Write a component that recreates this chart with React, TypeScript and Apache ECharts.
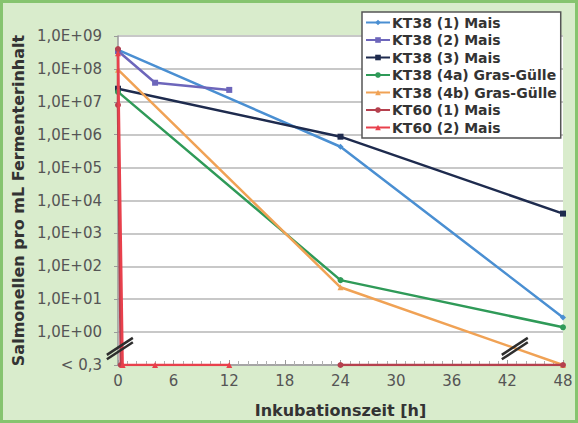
import React, { useEffect, useRef } from "react";
import * as echarts from "echarts";

// value plotted for "< 0,3" (below detection limit)
const BELOW = 0.1;

const seriesNames = [
  "KT38 (1) Mais",
  "KT38 (2) Mais",
  "KT38 (3) Mais",
  "KT38 (4a) Gras-Gülle",
  "KT38 (4b) Gras-Gülle",
  "KT60 (1) Mais",
  "KT60 (2) Mais",
];

const kt38_1_h = [0, 24, 48];
const kt38_1_v = [3.8e8, 4.3e5, 2.8];

const kt38_2_h = [0, 4, 12];
const kt38_2_v = [3.5e8, 3.8e7, 2.3e7];

const kt38_3_h = [0, 24, 48];
const kt38_3_v = [2.5e7, 8.7e5, 4.0e3];

const kt38_4a_h = [0, 24, 48];
const kt38_4a_v = [2.0e7, 38, 1.4];

const kt38_4b_h = [0, 24, 48];
const kt38_4b_v = [9.5e7, 23, BELOW];

const kt60_1a_h = [0, 0, 0.3];
const kt60_1a_v = [4.0e8, 8.0e6, BELOW];
const kt60_1b_h = [24, 48];
const kt60_1b_v = [BELOW, BELOW];

const kt60_2_h = [0, 0.5, 4, 12];
const kt60_2_v = [3.0e8, BELOW, BELOW, BELOW];

const colors = ["#4a8fd2", "#6d66bb", "#1e2b4e", "#2f9a58", "#f0a255", "#b5404e", "#e8404c"];
const symbols = ["diamond", "rect", "rect", "circle", "triangle", "circle", "triangle"];

const xTicks = { min: 0, max: 48, interval: 6 };

const pairs = (h: number[], v: number[]) => h.map((x, i) => [x, v[i]]);

export default function App() {
  const ref = useRef<HTMLDivElement>(null);
  useEffect(() => {
    if (!ref.current) return;
    const chart = echarts.init(ref.current, null, { renderer: "svg" });
    const font = "DejaVu Sans, Verdana, sans-serif";
    const mk = (idx: number, data: number[][], z = 2) => ({
      name: seriesNames[idx],
      type: "line",
      data,
      symbol: symbols[idx],
      symbolSize: 6,
      showSymbol: true,
      lineStyle: { color: colors[idx], width: 2.5 },
      itemStyle: { color: colors[idx] },
      z,
    });
    const series: any[] = [
      mk(0, pairs(kt38_1_h, kt38_1_v)),
      mk(1, pairs(kt38_2_h, kt38_2_v)),
      mk(2, pairs(kt38_3_h, kt38_3_v)),
      mk(3, pairs(kt38_4a_h, kt38_4a_v)),
      mk(4, pairs(kt38_4b_h, kt38_4b_v)),
      mk(5, pairs(kt60_1a_h, kt60_1a_v), 3),
      mk(5, pairs(kt60_1b_h, kt60_1b_v), 3),
      mk(6, pairs(kt60_2_h, kt60_2_v), 4),
    ];
    chart.setOption({
      animation: false,
      backgroundColor: "#d9eccc",
      grid: {
        left: 118,
        right: 15,
        top: 36,
        bottom: 57,
        show: true,
        backgroundColor: "#ffffff",
        borderWidth: 0,
      },
      legend: {
        data: seriesNames,
        orient: "vertical",
        left: 362,
        top: 12,
        padding: [3, 4, 3, 3],
        itemGap: 2.5,
        itemWidth: 24,
        itemHeight: 7,
        backgroundColor: "#ffffff",
        borderColor: "#555555",
        borderWidth: 1.5,
        borderRadius: 0,
        textStyle: { fontFamily: font, fontWeight: "bold", fontSize: 14, color: "#333333", lineHeight: 15, padding: [0, 0, 0, -3] },
      },
      xAxis: {
        type: "value",
        min: xTicks.min,
        max: xTicks.max,
        interval: xTicks.interval,
        name: "Inkubationszeit [h]",
        nameLocation: "middle",
        nameGap: 37,
        nameTextStyle: { fontFamily: font, fontWeight: "bold", fontSize: 16, color: "#333333" },
        axisLine: { show: true, lineStyle: { color: "#9a9a9a", width: 1.5 } },
        axisTick: { show: true, inside: true, length: 5, lineStyle: { color: "#9a9a9a" } },
        minorTick: { show: true, splitNumber: 6, length: 4, lineStyle: { color: "#b0b0b0" } },
        axisLabel: { fontFamily: font, fontSize: 15, color: "#555555", margin: 8 },
        splitLine: { show: false },
      },
      yAxis: {
        type: "log",
        logBase: 10,
        min: 0.1,
        max: 1e9,
        name: "Salmonellen pro mL Fermenterinhalt",
        nameLocation: "middle",
        nameGap: 92,
        nameTextStyle: { fontFamily: font, fontWeight: "bold", fontSize: 16, color: "#333333" },
        axisLine: { show: true, lineStyle: { color: "#9a9a9a", width: 1.5 } },
        axisTick: { show: true, length: 4, lineStyle: { color: "#9a9a9a" } },
        axisLabel: {
          fontFamily: font,
          fontSize: 15,
          color: "#555555",
          margin: 16,
          formatter: (v: number) => {
            const e = Math.round(Math.log10(v));
            if (e < 0) return "< 0,3";
            return "1,0E+" + String(e).padStart(2, "0");
          },
        },
        splitLine: { show: true, lineStyle: { color: "#c8c8c8", width: 2 } },
      },
      series,
    });

    // axis break marks
    const breakAt = (x: number, y: number) => {
      const p = chart.convertToPixel({ gridIndex: 0 }, [x, y]) as number[];
      const dx = 13, dy = -8.5;
      return [-2.2, 2.2].map((o) => ({
        type: "line",
        shape: { x1: p[0] - dx, y1: p[1] - dy + o, x2: p[0] + dx, y2: p[1] + dy + o },
        style: { stroke: "#2e2e2e", lineWidth: 2.5 },
        z: 100,
      }));
    };
    chart.setOption({
      graphic: [
        ...breakAt(0.2, Math.pow(10, -0.5)),
        ...breakAt(42.8, Math.pow(10, -0.5)),
        {
          type: "rect",
          shape: { x: 1.5, y: 1.5, width: 575, height: 420 },
          style: { fill: "none", stroke: "#86c46f", lineWidth: 3 },
          z: 100,
        },
      ],
    });
    return () => chart.dispose();
  }, []);
  return <div ref={ref} style={{ position: "fixed", left: 0, top: 0, width: 578, height: 423 }} />;
}
